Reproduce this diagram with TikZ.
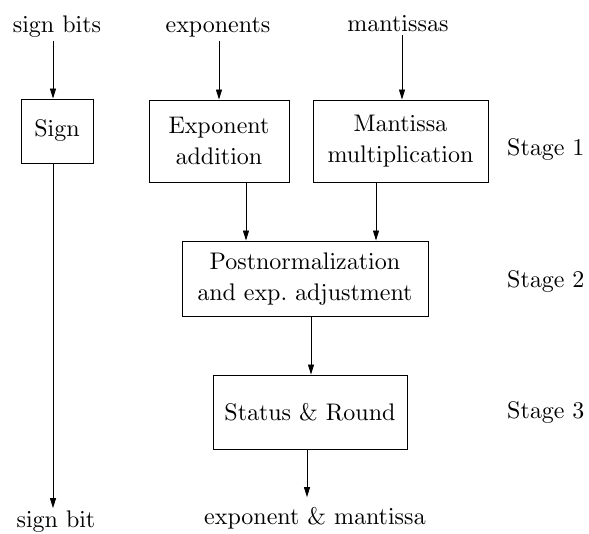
\documentclass[tikz,border=0pt]{standalone}
\usetikzlibrary{arrows.meta}
\font\cmbig=cmr10 at 24pt
\begin{document}
\begin{tikzpicture}[x=1pt,y=-1pt,
  every node/.style={font=\fontsize{24}{31}\selectfont\cmbig, inner sep=0pt},
  blk/.style={draw, line width=0.9pt, align=center},
  lbl/.style={anchor=base},
  stg/.style={anchor=base west},
  arr/.style={-{Triangle[length=10pt,width=6pt]}, line width=0.8pt}]
\useasboundingbox (0,0) rectangle (589,533);
% boxes
\node[blk, minimum width=72pt, minimum height=64pt] (sign) at (57,131) {Sign};
\node[blk, minimum width=140pt, minimum height=82pt] (exp) at (219,141) {Exponent\\addition};
\node[blk, minimum width=175pt, minimum height=82pt] (man) at (400.5,141) {Mantissa\\multiplication};
\node[blk, minimum width=246pt, minimum height=75pt] (post) at (305,278.5) {Postnormalization\\and exp.\ adjustment};
\node[blk, minimum width=194pt, minimum height=74pt] (stat) at (310,412) {Status \& Round};
% labels
\node[lbl] (sbits) at (57,32) {sign bits};
\node[lbl] (exps) at (218,32) {exponents};
\node[lbl] (mants) at (398,31) {mantissas};
\node[lbl] (sbit) at (56,527) {sign bit};
\node[lbl] (out) at (315,524) {exponent \& mantissa};
\node[stg] (st1) at (507,155) {Stage 1};
\node[stg] (st2) at (507,287) {Stage 2};
\node[stg] (st3) at (507,418) {Stage 3};
% arrow lines
\coordinate (xs) at (53,0);
\coordinate (xe) at (219,0);
\coordinate (xm) at (402,0);
\coordinate (xep) at (246,0);
\coordinate (xmp) at (376,0);
\coordinate (xps) at (311,0);
\coordinate (xso) at (307,0);
\draw[arr, shorten <=4pt] (sbits.south -| xs) -- (sign.north -| xs);
\draw[arr, shorten >=2pt] (sign.south -| xs) -- (sbit.north -| xs);
\draw[arr, shorten <=4pt] (exps.south -| xe) -- (exp.north -| xe);
\draw[arr, shorten <=4pt] (mants.south -| xm) -- (man.north -| xm);
\draw[arr] (exp.south -| xep) -- (post.north -| xep);
\draw[arr] (man.south -| xmp) -- (post.north -| xmp);
\draw[arr] (post.south -| xps) -- (stat.north -| xps);
\draw[arr, shorten >=10pt] (stat.south -| xso) -- (out.north -| xso);
\end{tikzpicture}
\end{document}
